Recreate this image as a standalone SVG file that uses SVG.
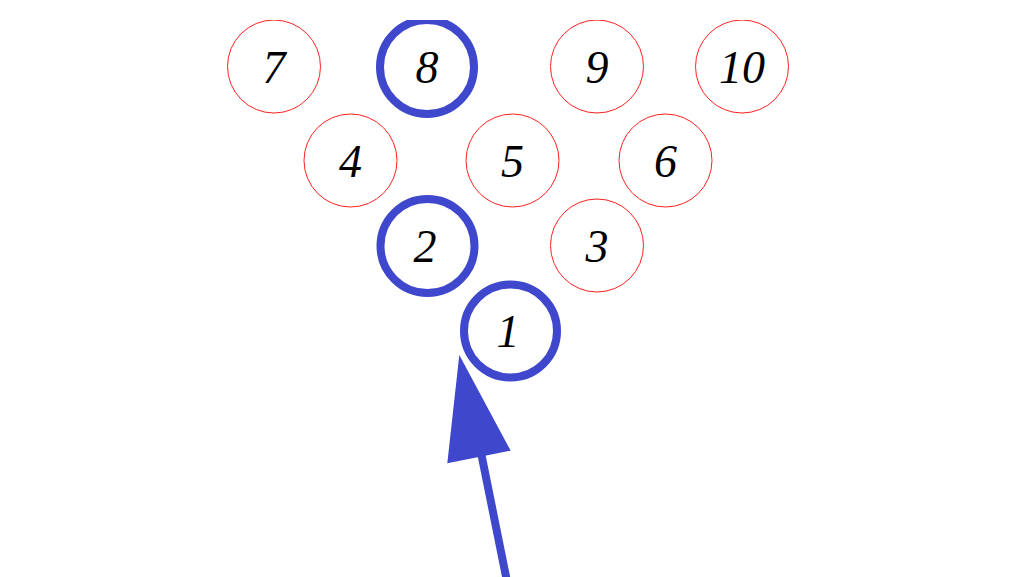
<svg xmlns="http://www.w3.org/2000/svg" width="1024" height="577" viewBox="0 0 1024 577">
<style>
.pin{fill:#fff;stroke:#ff2020;stroke-width:1}
.hit{fill:#fff;stroke:#3f48cc;stroke-width:8}
.lbl{font-family:"Liberation Serif","DejaVu Serif",serif;font-style:italic;font-size:46px;fill:#000;text-anchor:middle}
</style>
<defs>
<clipPath id="clip"><rect x="0" y="20" width="1024" height="557"/></clipPath>
</defs>
<rect width="1024" height="577" fill="#fff"/>
<g clip-path="url(#clip)">
<g id="pin7"><circle class="pin" cx="274" cy="66.5" r="46.5"/><text class="lbl" x="274" y="83">7</text></g>
<g id="pin8"><circle class="hit" cx="427" cy="67" r="47"/><text class="lbl" x="427" y="83">8</text></g>
<g id="pin9"><circle class="pin" cx="597" cy="66.5" r="46.5"/><text class="lbl" x="597" y="83">9</text></g>
<g id="pin10"><circle class="pin" cx="742" cy="66.5" r="46.5"/><text class="lbl" x="742" y="83">10</text></g>
<g id="pin4"><circle class="pin" cx="350.5" cy="160.5" r="46.5"/><text class="lbl" x="350.5" y="177">4</text></g>
<g id="pin5"><circle class="pin" cx="512.5" cy="160.5" r="46.5"/><text class="lbl" x="512.5" y="177">5</text></g>
<g id="pin6"><circle class="pin" cx="665.5" cy="160.5" r="46.5"/><text class="lbl" x="665.5" y="177">6</text></g>
<g id="pin2"><circle class="hit" cx="427.5" cy="246" r="47"/><text class="lbl" x="425" y="262">2</text></g>
<g id="pin3"><circle class="pin" cx="597" cy="245.5" r="46.5"/><text class="lbl" x="597" y="262">3</text></g>
<g id="pin1"><circle class="hit" cx="510.5" cy="331" r="46.5"/><text class="lbl" x="508" y="347">1</text></g>
<g id="connectors">
<line x1="506.7" y1="580" x2="481.5" y2="455" stroke="#3f48cc" stroke-width="8"/>
<polygon points="459.3,355 447.3,463.3 510.7,450.7" fill="#3f48cc"/>
</g>
</g>
</svg>
